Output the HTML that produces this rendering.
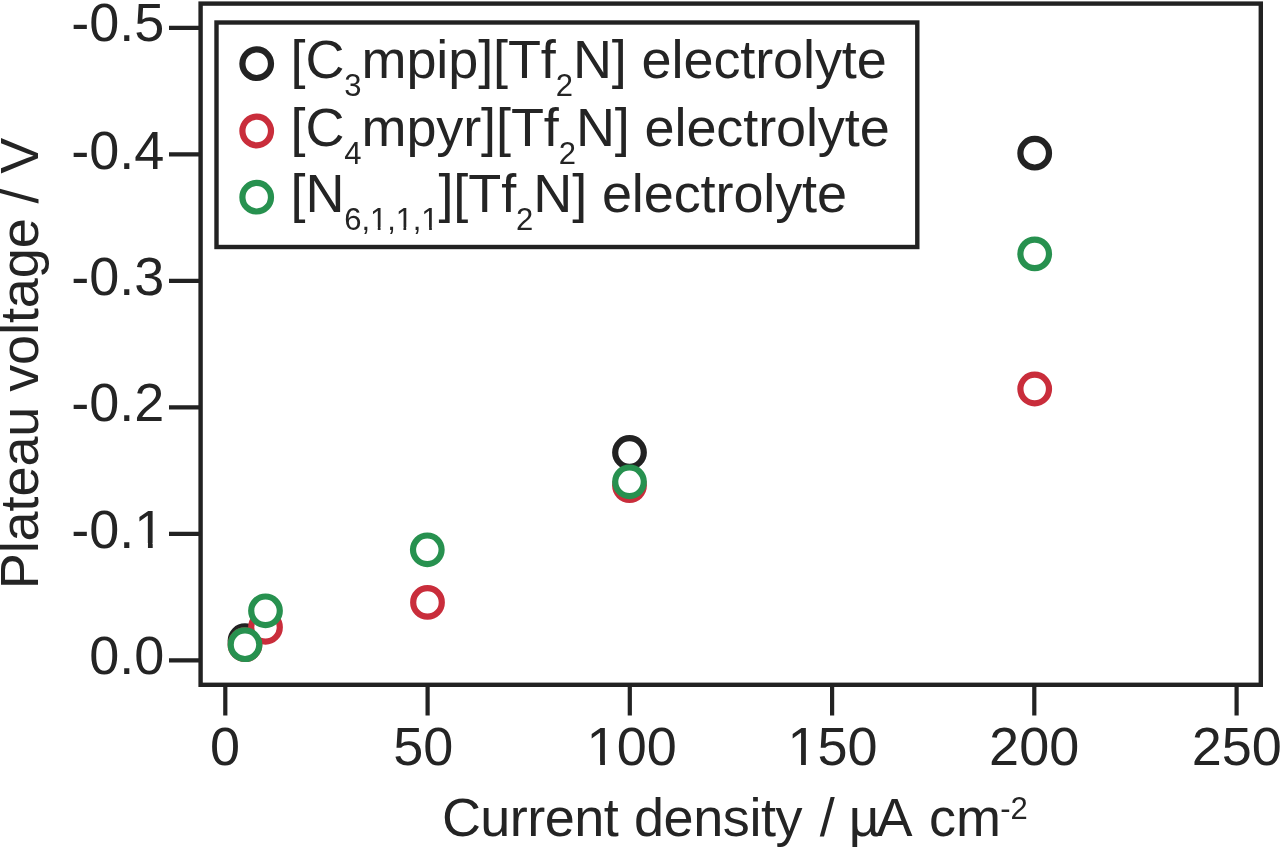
<!DOCTYPE html>
<html><head><meta charset="utf-8"><title>Plateau voltage vs current density</title>
<style>
html,body{margin:0;padding:0;background:#fff;width:1280px;height:848px;overflow:hidden}
svg{display:block}
text{font-family:"Liberation Sans",Arial,Helvetica,sans-serif;fill:#242424}
.t{font-size:54px}
.s{font-size:31px}
</style></head>
<body>
<svg width="1280" height="848" viewBox="0 0 1280 848">
<g fill="none" stroke="#222" stroke-linecap="butt">
  <!-- plot frame -->
  <rect x="200.6" y="3.6" width="1060.2" height="681.2" stroke-width="4.4"/>
  <!-- y ticks -->
  <path stroke-width="4.2" d="M169 27.8H200.6M169 154.3H200.6M169 280.8H200.6M169 407.3H200.6M169 533.8H200.6M169 660.3H200.6"/>
  <!-- x ticks -->
  <path stroke-width="4.2" d="M225.3 684.8V715.5M427.6 684.8V715.5M629.8 684.8V715.5M832.1 684.8V715.5M1034.3 684.8V715.5M1236.6 684.8V715.5"/>
  <!-- legend box -->
  <rect x="216.5" y="22.5" width="700.8" height="224.5" stroke-width="4.4"/>
</g>

<!-- y tick labels -->
<g class="t" text-anchor="end">
  <text x="164.4" y="41">-0.5</text>
  <text x="164.4" y="168.6">-0.4</text>
  <text x="164.4" y="295">-0.3</text>
  <text x="164.4" y="420.8">-0.2</text>
  <text x="164.4" y="547.8">-0.1</text>
  <text x="164.4" y="674.3">0.0</text>
</g>

<!-- x tick labels -->
<g class="t">
  <text x="210" y="765.1">0</text>
  <text x="393.2" y="765.1">50</text>
  <text x="586.6" y="765.1">100</text>
  <text x="787.5" y="765.1">150</text>
  <text x="989.1" y="765.1">200</text>
  <text x="1191.7" y="765.1">250</text>
</g>

<!-- axis titles -->
<text class="t" letter-spacing="-0.1" transform="translate(38.2 589.2) rotate(-90)">Plateau voltage / V</text>
<text class="t" y="836.3"><tspan x="441.9" letter-spacing="-0.55">Current</tspan> <tspan x="634" letter-spacing="-0.42">density</tspan> <tspan x="819.7">/</tspan> <tspan x="848.8">µ</tspan><tspan x="876.5">A</tspan> <tspan x="929">cm</tspan><tspan class="s" x="1000.2" y="818.6">-2</tspan></text>

<!-- legend entries -->
<g fill="none" stroke-width="6.2">
  <circle cx="256.7" cy="63.7" r="14.3" stroke="#222"/>
  <circle cx="256.7" cy="131" r="14.3" stroke="#c92d3b"/>
  <circle cx="256.7" cy="197.2" r="14.3" stroke="#27914f"/>
</g>
<g class="t" letter-spacing="-0.1">
  <text x="290.55" y="78.2">[C<tspan class="s" dy="18">3</tspan><tspan dy="-18">mpip][Tf</tspan><tspan class="s" dy="18">2</tspan><tspan dy="-18">N] electrolyte</tspan></text>
  <text x="290.55" y="145.5">[C<tspan class="s" dy="18">4</tspan><tspan dy="-18">mpyr][Tf</tspan><tspan class="s" dy="18">2</tspan><tspan dy="-18">N] electrolyte</tspan></text>
  <text x="290.55" y="211.7">[N<tspan class="s" dy="18">6,1,1,1</tspan><tspan dy="-18">][Tf</tspan><tspan class="s" dy="18">2</tspan><tspan dy="-18">N] electrolyte</tspan></text>
</g>

<!-- hide the foot serif of Liberation "1" (target font has a plain 1) -->
<g fill="#fff">
  <rect x="137.27" y="543" width="10.67" height="5.80"/>
  <rect x="152.70" y="543" width="10.24" height="5.80"/>
  <rect x="589.51" y="761" width="10.67" height="5.10"/>
  <rect x="604.95" y="761" width="10.24" height="5.10"/>
  <rect x="790.41" y="761" width="10.67" height="5.10"/>
  <rect x="805.85" y="761" width="10.24" height="5.10"/>
  <rect x="371.56" y="227" width="6.23" height="3.70"/>
  <rect x="380.54" y="227" width="5.99" height="3.70"/>
  <rect x="397.22" y="227" width="6.23" height="3.70"/>
  <rect x="406.19" y="227" width="5.99" height="3.70"/>
  <rect x="422.88" y="227" width="6.23" height="3.70"/>
  <rect x="431.85" y="227" width="5.99" height="3.70"/>
</g>

<!-- data points: black, red, green (green drawn last) -->
<g fill="#fff" stroke-width="6.2">
  <g stroke="#222">
    <circle cx="245" cy="640.7" r="14.3"/>
    <circle cx="629.5" cy="452.5" r="14.3"/>
    <circle cx="1034.7" cy="153.2" r="14.3"/>
  </g>
  <g stroke="#c92d3b">
    <circle cx="245" cy="644.7" r="14.3"/>
    <circle cx="265.5" cy="627.3" r="14.3"/>
    <circle cx="427.5" cy="602.4" r="14.3"/>
    <circle cx="629.5" cy="485.6" r="14.3"/>
    <circle cx="1034.7" cy="389" r="14.3"/>
  </g>
  <g stroke="#27914f">
    <circle cx="245" cy="644.7" r="14.3"/>
    <circle cx="265.5" cy="610.8" r="14.3"/>
    <circle cx="427.3" cy="549.8" r="14.3"/>
    <circle cx="629.5" cy="481.8" r="14.3"/>
    <circle cx="1034.7" cy="253.9" r="14.3"/>
  </g>
</g>
</svg>
</body></html>
